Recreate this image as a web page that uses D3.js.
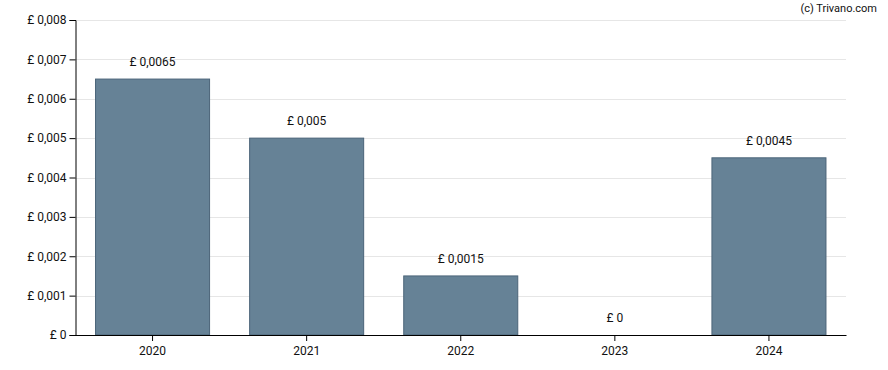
<!DOCTYPE html>
<html>
<head>
<meta charset="utf-8">
<script src="https://cdn.jsdelivr.net/npm/d3@7"></script>
<style>
  body { margin: 0; background: #fff; }
  text { font-family: Roboto, "Open Sans", sans-serif; }
</style>
</head>
<body>
<div id="chart"></div>
<script>
// dividend per year (GBP)
var years = ["2020", "2021", "2022", "2023", "2024"];
var values = [0.0065, 0.005, 0.0015, 0, 0.0045];
var yTicks = [0, 0.001, 0.002, 0.003, 0.004, 0.005, 0.006, 0.007, 0.008];

var width = 888, height = 370;
var margin = {top: 20, right: 42, bottom: 35, left: 75.5};

var svg = d3.select("#chart").append("svg")
  .attr("width", width)
  .attr("height", height);

var x = d3.scaleBand()
  .domain(years)
  .range([margin.left, width - margin.right])
  .paddingInner(0.26)
  .paddingOuter(0.13);

var y = d3.scaleLinear()
  .domain([0, 0.008])
  .range([height - margin.bottom, margin.top]);

function fmt(v) {
  return "£ " + String(v).replace(".", ",");
}

// gridlines
svg.append("g")
  .selectAll("line")
  .data(yTicks.slice(1))
  .enter().append("line")
    .attr("x1", margin.left)
    .attr("x2", width - margin.right)
    .attr("y1", function(d) { return Math.round(y(d)) + 0.5; })
    .attr("y2", function(d) { return Math.round(y(d)) + 0.5; })
    .style("stroke", "#e6e6e6")
    .style("stroke-width", 1);

// bars
svg.append("g")
  .selectAll("rect")
  .data(values)
  .enter().append("rect")
    .attr("x", function(d, i) { return x(years[i]); })
    .attr("y", function(d) { return y(d); })
    .attr("width", x.bandwidth())
    .attr("height", function(d) { return y(0) - y(d); })
    .style("fill", "#668296")
    .style("stroke", "#4b6479")
    .style("stroke-width", 1)
    .style("display", function(d) { return d > 0 ? null : "none"; });

// value labels
svg.append("g")
  .selectAll("text")
  .data(values)
  .enter().append("text")
    .attr("x", function(d, i) { return x(years[i]) + x.bandwidth() / 2; })
    .attr("y", function(d) { return y(d) - 13; })
    .attr("text-anchor", "middle")
    .style("font-size", "12px")
    .style("fill", "#111")
    .text(function(d) { return fmt(d); });

// y axis
var yAxis = d3.axisLeft(y)
  .tickValues(yTicks)
  .tickSize(6)
  .tickPadding(3)
  .tickFormat(fmt);

svg.append("g")
  .attr("transform", "translate(" + margin.left + ",0)")
  .call(yAxis)
  .call(function(g) {
    g.select(".domain").style("stroke", "#000");
    g.selectAll("text").style("font-size", "12px").style("fill", "#111")
      .style("font-family", "Roboto, sans-serif");
  });

// x axis
var xAxis = d3.axisBottom(x)
  .tickSize(6)
  .tickPadding(5)
  .tickSizeOuter(0);

svg.append("g")
  .attr("transform", "translate(0," + y(0) + ")")
  .call(xAxis)
  .call(function(g) {
    g.select(".domain").style("stroke", "#000");
    g.selectAll("text").style("font-size", "12px").style("fill", "#111")
      .style("font-family", "Roboto, sans-serif");
  });

// credit
svg.append("text")
  .attr("x", 877)
  .attr("y", 12)
  .attr("text-anchor", "end")
  .style("font-size", "11px")
  .style("fill", "#111")
  .text("(c) Trivano.com");
</script>
</body>
</html>
